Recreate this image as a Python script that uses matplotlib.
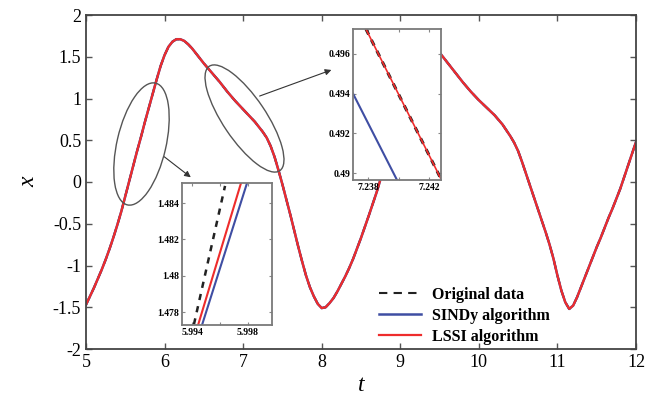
import matplotlib.pyplot as plt
from matplotlib.patches import Ellipse

plt.rcParams['font.family'] = ['Liberation Serif', 'DejaVu Serif']

# Trajectory x(t) on 5 <= t <= 12 (all three methods overlap at this scale)
t_vals = [5.0, 5.05, 5.1, 5.15, 5.2, 5.25, 5.3, 5.35, 5.4, 5.45, 5.5, 5.55,
          5.6, 5.65, 5.7, 5.75, 5.8, 5.85, 5.9, 5.95, 6.0, 6.05, 6.1, 6.15,
          6.2, 6.25, 6.3, 6.35, 6.4, 6.45, 6.5, 6.6, 6.7, 6.8, 6.9, 7.0, 7.1,
          7.15, 7.2, 7.25, 7.3, 7.35, 7.4, 7.45, 7.5, 7.55, 7.6, 7.65, 7.7,
          7.75, 7.8, 7.85, 7.9, 7.95, 8.0, 8.05, 8.1, 8.15, 8.2, 8.25, 8.3,
          8.35, 8.4, 8.5, 8.6, 8.7, 8.8, 8.9, 9.0, 9.1, 9.2, 9.3, 9.35, 9.4,
          9.45, 9.5, 9.55, 9.6, 9.7, 9.8, 9.9, 10.0, 10.1, 10.2, 10.3, 10.35,
          10.4, 10.45, 10.5, 10.55, 10.6, 10.65, 10.7, 10.75, 10.8, 10.85,
          10.9, 10.95, 11.0, 11.05, 11.1, 11.15, 11.2, 11.25, 11.3, 11.35,
          11.4, 11.45, 11.5, 11.55, 11.6, 11.65, 11.7, 11.75, 11.8, 11.85,
          11.9, 11.95, 12.0]
x_vals = [-1.47, -1.37, -1.27, -1.16, -1.05, -0.93, -0.80, -0.66, -0.51, -0.35,
          -0.17, 0.01, 0.19, 0.37, 0.54, 0.72, 0.89, 1.06, 1.23, 1.39, 1.52,
          1.62, 1.68, 1.71, 1.71, 1.69, 1.65, 1.60, 1.54, 1.48, 1.42, 1.31,
          1.20, 1.08, 0.97, 0.87, 0.77, 0.72, 0.66, 0.60, 0.53, 0.43, 0.30,
          0.14, -0.03, -0.21, -0.39, -0.58, -0.77, -0.95, -1.12, -1.26, -1.37,
          -1.46, -1.51, -1.50, -1.45, -1.39, -1.31, -1.22, -1.13, -1.03, -0.92,
          -0.67, -0.40, -0.12, 0.20, 0.56, 0.92, 1.28, 1.57, 1.69, 1.70, 1.67,
          1.61, 1.55, 1.49, 1.43, 1.31, 1.19, 1.08, 0.98, 0.89, 0.80, 0.69,
          0.62, 0.55, 0.47, 0.37, 0.24, 0.10, -0.04, -0.18, -0.32, -0.46,
          -0.60, -0.75, -0.92, -1.12, -1.30, -1.44, -1.52, -1.48, -1.38, -1.26,
          -1.14, -1.02, -0.90, -0.78, -0.67, -0.55, -0.43, -0.32, -0.20, -0.08,
          0.06, 0.20, 0.34, 0.48]

# Zoom near t = 7.24
z1_orig_t = [7.23785, 7.2428]
z1_orig_x = [0.49725, 0.4897]
z1_sindy_t = [7.2370, 7.2399]
z1_sindy_x = [0.4940, 0.48965]
z1_lssi_t = [7.23785, 7.2428]
z1_lssi_x = [0.49725, 0.4897]

# Zoom near t = 5.996
z2_orig_t = [5.99414, 5.99636]
z2_orig_x = [1.47733, 1.48494]
z2_sindy_t = [5.99471, 5.99793]
z2_sindy_x = [1.47728, 1.4851]
z2_lssi_t = [5.99443, 5.99750]
z2_lssi_x = [1.47728, 1.4851]

RED = '#ee2c2c'
BLUE = '#3f4ea3'
GREY = '#555555'

fig = plt.figure(figsize=(6.46, 3.98), dpi=100)
ax = fig.add_axes([86/646, 49/398, 550/646, 334/398])

ax.plot(t_vals, x_vals, color='#222222', linestyle=(0, (4, 3)), lw=1.5,
        label='Original data')
ax.plot(t_vals, x_vals, color=BLUE, lw=1.8, label='SINDy algorithm')
ax.plot(t_vals, x_vals, color=RED, lw=1.6, label='LSSI algorithm')

ax.set_xlim(5, 12)
ax.set_ylim(-2, 2)
ax.set_xticks(range(5, 13))
ax.set_yticks([-2, -1.5, -1, -0.5, 0, 0.5, 1, 1.5, 2])
ax.set_yticklabels(['-2', '-1.5', '-1', '-0.5', '0', '0.5', '1', '1.5', '2'])
ax.tick_params(direction='in', top=True, right=True, length=4, width=1,
               color='#555555', labelsize=13)
for s in ax.spines.values():
    s.set_color('#444444')
    s.set_linewidth(1.3)
ax.set_xlabel('t', fontsize=17, style='italic', labelpad=3)
ax.set_ylabel('x', fontsize=17, style='italic', labelpad=10, rotation=90)

leg = ax.legend(loc='upper left', bbox_to_anchor=(371/646, (398-279)/398),
                bbox_transform=fig.transFigure, frameon=False, borderpad=0,
                handlelength=2.6, handletextpad=0.7, labelspacing=0.3,
                prop={'family': 'Liberation Serif', 'weight': 'bold', 'size': 11.5})


def inset(rect, xlim, ylim, xticks, xlabels, yticks, ylabels, lines):
    ins = fig.add_axes(rect)
    for (tt, xx, kw) in lines:
        ins.plot(tt, xx, **kw)
    ins.set_xlim(*xlim)
    ins.set_ylim(*ylim)
    ins.set_xticks(xticks)
    ins.set_xticklabels(xlabels)
    ins.set_yticks(yticks)
    ins.set_yticklabels(ylabels)
    ins.tick_params(direction='in', top=True, right=True, length=2, width=0.8,
                    color='#888888', labelsize=7, pad=2)
    for lab in ins.get_xticklabels() + ins.get_yticklabels():
        lab.set_fontweight('bold')
    for s in ins.spines.values():
        s.set_color('#7a7a7a')
        s.set_linewidth(1.3)
    ins.set_facecolor('white')
    return ins


inset([353/646, 218/398, 88/646, 151/398], (7.2370, 7.2428), (0.48965, 0.49725),
      [7.238, 7.240, 7.242], ['7.238', '', '7.242'],
      [0.49, 0.492, 0.494, 0.496], ['0.49', '0.492', '0.494', '0.496'],
      [(z1_orig_t, z1_orig_x, dict(color='#222222', ls=(0, (2, 2)), lw=2.2)),
       (z1_sindy_t, z1_sindy_x, dict(color=BLUE, lw=1.5)),
       (z1_lssi_t, z1_lssi_x, dict(color=RED, lw=1.2))])

inset([182/646, 73/398, 90/646, 142/398], (5.99329, 5.99971), (1.4773, 1.4851),
      [5.994, 5.996, 5.998], ['5.994', '', '5.998'],
      [1.478, 1.48, 1.482, 1.484], ['1.478', '1.48', '1.482', '1.484'],
      [(z2_orig_t, z2_orig_x, dict(color='#222222', ls=(0, (2.5, 2.5)), lw=1.8)),
       (z2_sindy_t, z2_sindy_x, dict(color=BLUE, lw=1.5)),
       (z2_lssi_t, z2_lssi_x, dict(color=RED, lw=1.5))])

# Ellipses marking the zoomed regions (figure inches)
fig.patches.append(Ellipse((1.415, 2.54), 1.25, 0.49, angle=77, fill=False,
                           edgecolor=GREY, lw=1.0, transform=fig.dpi_scale_trans))
fig.patches.append(Ellipse((2.445, 2.795), 1.26, 0.43, angle=-56, fill=False,
                           edgecolor=GREY, lw=1.0, transform=fig.dpi_scale_trans))

arrow = dict(arrowstyle='-|>', color='#333333', lw=0.8, mutation_scale=9)
ax.annotate('', xy=(334, 329), xytext=(257, 301), xycoords='figure pixels',
            textcoords='figure pixels', arrowprops=arrow)
ax.annotate('', xy=(193, 219), xytext=(162, 243), xycoords='figure pixels',
            textcoords='figure pixels', arrowprops=arrow)

fig.savefig('out.png', dpi=100)
